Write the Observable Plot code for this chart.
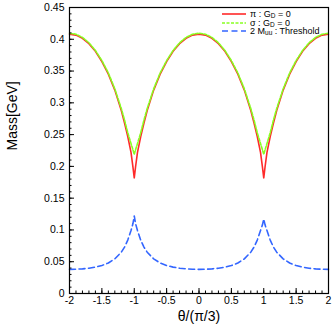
<!DOCTYPE html>
<html>
<head>
<meta charset="utf-8">
<script src="https://cdn.jsdelivr.net/npm/d3@7"></script>
<script src="https://cdn.jsdelivr.net/npm/@observablehq/plot@0.6"></script>
<style>
  html, body { margin: 0; padding: 0; background: #fff; }
  #wrap { position: relative; width: 332px; height: 325px; font-family: "Liberation Sans", Arial, sans-serif; }
  #legend { position: absolute; left: 221px; top: 10px; font-size: 9px; line-height: 8.5px; color: #000; }
  #legend .row { display: flex; align-items: center; height: 8.5px; white-space: nowrap; }
  #legend svg { width: 26px; height: 8px; margin-right: 3px; }
  sub { font-size: 6.5px; vertical-align: -1px; line-height: 0; }
</style>
</head>
<body>
<div id="wrap"><div id="legend"></div></div>
<script>
// ---- data ----
const theta = [-2,-1.9,-1.8,-1.7,-1.6,-1.5,-1.4,-1.3,-1.2,-1.15,-1.1,-1.05,-1.02,-1,
  -0.98,-0.95,-0.9,-0.85,-0.8,-0.7,-0.6,-0.5,-0.4,-0.3,-0.2,-0.1,0,
  0.1,0.2,0.3,0.4,0.5,0.6,0.7,0.8,0.85,0.9,0.95,0.98,1,
  1.02,1.05,1.1,1.15,1.2,1.3,1.4,1.5,1.6,1.7,1.8,1.9,2];
const piMass = [0.408,0.4065,0.4015,0.393,0.381,0.365,0.345,0.320,0.288,0.268,0.247,0.222,0.199,0.182,
  0.199,0.222,0.247,0.268,0.288,0.320,0.345,0.365,0.381,0.393,0.4015,0.4065,0.408,
  0.4065,0.4015,0.393,0.381,0.365,0.345,0.320,0.288,0.268,0.247,0.222,0.199,0.182,
  0.199,0.222,0.247,0.268,0.288,0.320,0.345,0.365,0.381,0.393,0.4015,0.4065,0.408];
const sigmaMass = [0.4095,0.408,0.403,0.3945,0.3825,0.3665,0.347,0.322,0.291,0.273,0.253,0.236,0.226,0.219,
  0.226,0.236,0.253,0.273,0.291,0.322,0.347,0.3665,0.3825,0.3945,0.403,0.408,0.4095,
  0.408,0.403,0.3945,0.3825,0.3665,0.347,0.322,0.291,0.273,0.253,0.236,0.226,0.219,
  0.226,0.236,0.253,0.273,0.291,0.322,0.347,0.3665,0.3825,0.3945,0.403,0.408,0.4095];
const threshold = [0.038,0.0382,0.0388,0.0398,0.0415,0.044,0.048,0.0545,0.065,0.073,0.084,0.099,0.110,0.122,
  0.110,0.099,0.084,0.073,0.065,0.0545,0.048,0.044,0.0415,0.0398,0.0388,0.0382,0.038,
  0.0382,0.0388,0.0398,0.0415,0.044,0.048,0.0545,0.065,0.073,0.084,0.099,0.108,0.117,
  0.108,0.099,0.084,0.073,0.065,0.0545,0.048,0.044,0.0415,0.0398,0.0388,0.0382,0.038];

const xTicks = [-2,-1.5,-1,-0.5,0,0.5,1,1.5,2];
const xTickLabels = ["-2","-1.5","-1","-0.5","0","0.5","1","1.5","2"];
const xMinor = d3.range(-20, 21).map(i => i / 10);
const yTicks = [0,0.05,0.1,0.15,0.2,0.25,0.3,0.35,0.4,0.45];
const yTickLabels = ["0","0.05","0.1","0.15","0.2","0.25","0.3","0.35","0.4","0.45"];
const yMinor = d3.range(0, 46).map(i => i / 100);

const colors = ["#ff2a2a", "#88ff22", "#3366ff"];
const dashes = ["none", "3,1.5", "6,3.5"];

// ---- layout ----
const W = 332, H = 325, mL = 69, mR = 4, mT = 7, mB = 32;
const iW = W - mL - mR, iH = H - mT - mB;

const rows = theta.map((t, i) => ({t, pi: piMass[i], sigma: sigmaMass[i], thr: threshold[i]}));

const chart = Plot.plot({
  width: W, height: H,
  marginLeft: mL, marginRight: mR, marginTop: mT, marginBottom: mB,
  x: {domain: [-2, 2]},
  y: {domain: [0, 0.45]},
  style: {fontFamily: "'Liberation Sans', Arial, sans-serif", fontSize: "11px", color: "#000", background: "#fff"},
  marks: [
    Plot.line(rows, {x: "t", y: "thr", stroke: colors[2], strokeWidth: 1.6, strokeDasharray: dashes[2]}),
    Plot.line(rows, {x: "t", y: "pi", stroke: colors[0], strokeWidth: 1.6}),
    Plot.line(rows, {x: "t", y: "sigma", stroke: colors[1], strokeWidth: 1.6, strokeDasharray: dashes[1]}),
    // inward ticks
    Plot.tickX(xMinor, {x: d => d, insetTop: iH - 2.5, stroke: "#000", strokeWidth: 1}),
    Plot.tickX(xTicks, {x: d => d, insetTop: iH - 5, stroke: "#000", strokeWidth: 1}),
    Plot.tickY(yMinor, {y: d => d, insetRight: iW - 2.5, stroke: "#000", strokeWidth: 1}),
    Plot.tickY(yTicks, {y: d => d, insetRight: iW - 5, stroke: "#000", strokeWidth: 1}),
    Plot.frame({stroke: "#000", strokeWidth: 1.2}),
    Plot.axisX(xTicks, {tickSize: 0, tickPadding: 3, tickFormat: (d, i) => xTickLabels[i], label: null, fontSize: 10.5}),
    Plot.axisY(yTicks, {tickSize: 0, tickPadding: 5, tickFormat: (d, i) => yTickLabels[i], label: null, fontSize: 10.5}),
    Plot.text(["θ/(π/3)"], {frameAnchor: "bottom", dy: 23, fontSize: 14, lineAnchor: "middle"}),
    Plot.text(["Mass[GeV]"], {frameAnchor: "left", dx: -57, rotate: -90, fontSize: 14, lineAnchor: "middle"})
  ]
});
document.getElementById("wrap").prepend(chart);

// ---- legend ----
const legendItems = [
  {c: colors[0], d: dashes[0], html: "π : G<sub>D</sub> = 0"},
  {c: colors[1], d: dashes[1], html: "σ : G<sub>D</sub> = 0"},
  {c: colors[2], d: dashes[2], html: "2 M<sub>uu</sub> : Threshold"}
];
const leg = document.getElementById("legend");
legendItems.forEach(it => {
  const row = document.createElement("div");
  row.className = "row";
  row.innerHTML = `<svg viewBox="0 0 26 8"><line x1="1" y1="4" x2="25" y2="4" stroke="${it.c}" stroke-width="1.6" stroke-dasharray="${it.d}"/></svg><span>${it.html}</span>`;
  leg.appendChild(row);
});
</script>
</body>
</html>
